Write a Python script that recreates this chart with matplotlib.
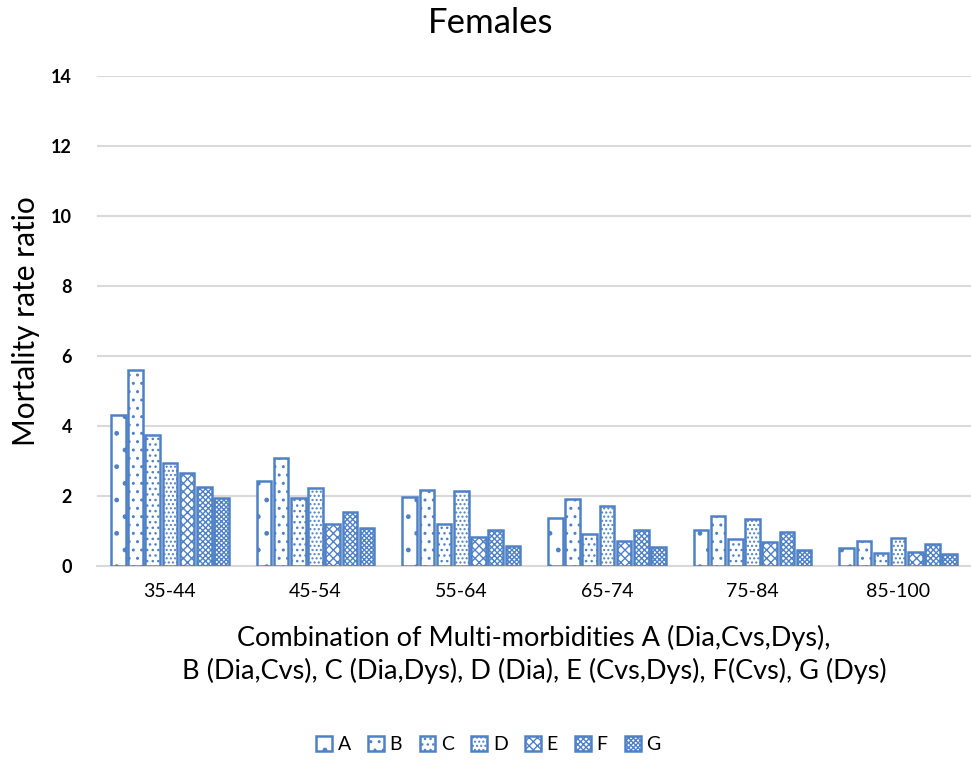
import numpy as np
import matplotlib.pyplot as plt

plt.rcParams['font.family'] = ['Lato', 'DejaVu Sans']
plt.rcParams['hatch.linewidth'] = 1.0
plt.rcParams['hatch.color'] = '#4F81C7'

age_groups = ['35-44', '45-54', '55-64', '65-74', '75-84', '85-100']
series = ['A', 'B', 'C', 'D', 'E', 'F', 'G']
A = [4.31, 2.43, 1.97, 1.38, 1.03, 0.51]
B = [5.60, 3.09, 2.17, 1.92, 1.43, 0.71]
C = [3.74, 1.94, 1.20, 0.92, 0.77, 0.37]
D = [2.94, 2.23, 2.15, 1.70, 1.34, 0.80]
E = [2.66, 1.20, 0.83, 0.72, 0.69, 0.40]
F = [2.26, 1.54, 1.03, 1.02, 0.97, 0.63]
G = [1.94, 1.09, 0.58, 0.53, 0.46, 0.35]
values = [A, B, C, D, E, F, G]

hatches = ['.', '..', '...', '....', 'xxxx', 'xxxxxx', 'xxxxxxx']
blue = '#4F81C7'

fig = plt.figure(figsize=(9.71, 7.6), dpi=100)
ax = fig.add_axes([0.1, 0.2553, 0.9, 0.6447])

x = np.arange(len(age_groups))
step = 0.118
width = 0.1
for i, (name, vals) in enumerate(zip(series, values)):
    ax.bar(x + (i - 3) * step, vals, width, facecolor='white', edgecolor=blue,
           linewidth=1.8, hatch=hatches[i], label=name, zorder=3)

ax.set_ylim(0, 14)
ax.set_xlim(-0.5, 5.5)
ax.set_yticks(range(0, 15, 2))
ax.yaxis.grid(True, color='#D9D9D9', linewidth=1.5, zorder=0)
ax.set_axisbelow(True)
for s in ['top', 'right', 'left']:
    ax.spines[s].set_visible(False)
ax.spines['bottom'].set_color('#D9D9D9')
ax.spines['bottom'].set_linewidth(1.5)
ax.tick_params(axis='both', length=0)
ax.tick_params(axis='y', labelsize=13, pad=18)
ax.tick_params(axis='x', labelsize=14, pad=12)
for lab in ax.get_yticklabels():
    lab.set_fontweight('bold')
ax.set_xticks(x)
ax.set_xticklabels(age_groups)

ax.set_ylabel('Mortality rate ratio', fontsize=21.5, labelpad=8)
ax.set_xlabel('Combination of Multi-morbidities A (Dia,Cvs,Dys),\n'
              'B (Dia,Cvs), C (Dia,Dys), D (Dia), E (Cvs,Dys), F(Cvs), G (Dys)',
              fontsize=19.5, labelpad=18, linespacing=1.35)
fig.text(0.505, 0.97, 'Females', ha='center', va='center', fontsize=25)

fig.legend(loc='center', bbox_to_anchor=(0.503, 0.02), ncol=7, frameon=False,
           fontsize=14, handlelength=0.8, handleheight=0.8, handletextpad=0.3,
           columnspacing=0.9)

fig.savefig('out.png', dpi=100)
